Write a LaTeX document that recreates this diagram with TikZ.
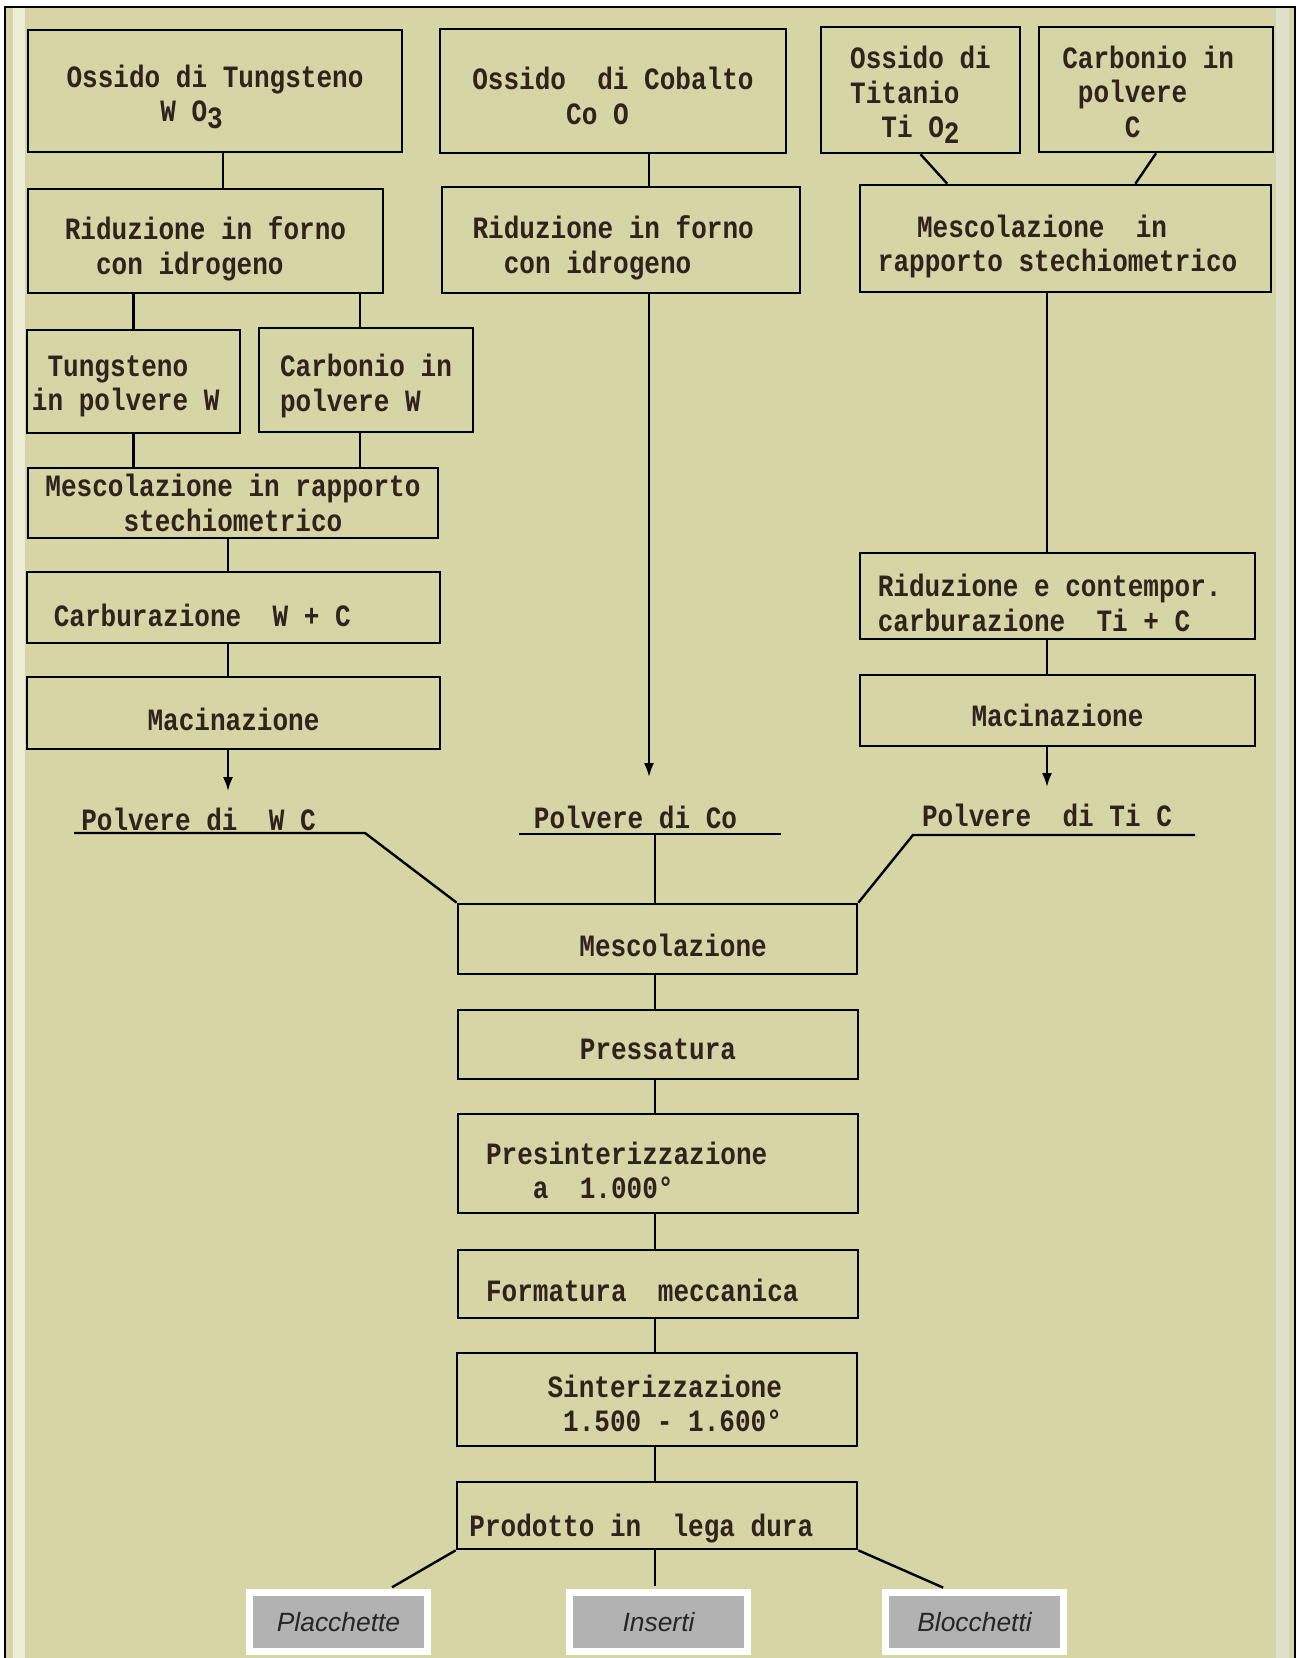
\documentclass[tikz,border=0pt]{standalone}
\usepackage{fontspec}
\setmonofont{Liberation Mono}[FakeStretch=0.84]
\newfontfamily\capfont{Liberation Sans}
\usetikzlibrary{arrows.meta,calc}

\definecolor{paper}{RGB}{214,213,166}
\definecolor{ink}{RGB}{48,34,28}
\definecolor{tabgray}{RGB}{178,178,178}

\newcommand\tw{\ttfamily\bfseries\fontsize{15.5}{17.25}\selectfont}
\newcommand\lowd[2]{\raisebox{-#1}{#2}}
\newcommand\dn[1]{\vrule width 0pt height \dimexpr\fontcharht\font`\d+2\dimexpr#1\relax\relax}

\tikzset{
  proc/.style 2 args={draw, line width=1.3pt, minimum width=#1*0.5pt, minimum height=#2*0.5pt,
    inner sep=0pt, align=center, font=\tw, text=ink},
  powder/.style={font=\tw, text=ink, inner sep=8pt, anchor=base},
  tab/.style={draw=white, fill=tabgray, line width=3.5pt, minimum width=178*0.5pt,
    minimum height=59*0.5pt, inner sep=0pt, text=black!85,
    font=\capfont\itshape\fontsize{13.2}{15}\selectfont},
  link/.style={line width=1.2pt},
  arr/.style={line width=1.2pt, -{Latex[length=7pt,width=5pt]}}
}

\begin{document}
\begin{tikzpicture}[x=0.5pt, y=-0.5pt]
  \useasboundingbox (0,0) rectangle (1298,1658);
  \fill[white] (0,0) rectangle (1298,1658);
  \fill[paper] (5,7) rectangle (1295,1658);
  \fill[paper!45!white] (13,7) rectangle (25,1658);
  \fill[black!10!paper!50!white] (1276,7) rectangle (1289,1658);
  \draw[line width=1pt] (5,1658) -- (5,7) -- (1295,7) -- (1295,1658);

  \node[proc={374}{122}] (oxw) at (215,91) {\dn{3pt}Ossido di Tungsteno\\W O\lowd{3.5pt}{3}\phantom{xxx}};
  \node[proc={346}{124}] (oxco) at (613,91) {\dn{2.5pt}Ossido~~di Cobalto\\Co O\phantom{xx}};
  \node[proc={199}{126}, align=left] (oxti) at (920.5,90) {\dn{2.5pt}Ossido di\\Titanio\\\phantom{xx}Ti O\lowd{3pt}{2}};
  \node[proc={234}{125}] (carbc) at (1156,89.5) {\dn{1pt}Carbonio in\phantom{x}\\polvere\phantom{xxx}\\C\phantom{xxx}};

  \node[proc={355}{104}] (ridw) at (205.5,241) {\dn{4pt}Riduzione in forno\\con idrogeno\phantom{xx}};
  \node[proc={358}{106}] (ridco) at (621,240) {\dn{4pt}Riduzione in forno\phantom{x}\\con idrogeno\phantom{xxx}};
  \node[proc={411}{107}] (mixti) at (1065.5,238.5) {\dn{4pt}Mescolazione~~in\phantom{xxx}\\rapporto stechiometrico\phantom{x}};

  \node[proc={213}{103}] (tung) at (133.5,381.5) {\dn{2pt}Tungsteno\phantom{xx}\\in polvere W\phantom{x}};
  \node[proc={214}{104}, align=left] (carbw) at (366,380) {\dn{3pt}Carbonio in\\polvere W};
  \node[proc={410}{70}] (mixw) at (233,503) {Mescolazione in rapporto\\stechiometrico};
  \node[proc={413}{71}] (carbur) at (233.5,607.5) {\dn{4pt}Carburazione~~W + C\phantom{xxxx}};
  \node[proc={413}{72}] (macw) at (233.5,713) {\dn{3pt}Macinazione};

  \node[proc={395}{86}, align=left] (redti) at (1057.5,596) {\dn{3.5pt}Riduzione e contempor.\phantom{x}\\carburazione~~Ti + C};
  \node[proc={395}{71}] (macti) at (1057.5,710.5) {\dn{2.5pt}Macinazione};

  \node[powder] (pwc) at (198.5,830) {Polvere di~~W C};
  \node[powder] (pco) at (635.5,828) {Polvere di Co};
  \node[powder] (ptc) at (1047,826) {Polvere~~di Ti C};

  \node[proc={399}{70}] (mix) at (657.5,939) {\dn{3pt}\phantom{xx}Mescolazione};
  \node[proc={400}{69}] (press) at (658,1044.5) {\dn{2pt}Pressatura};
  \node[proc={400}{99}, align=left] (presint) at (658,1163.5) {\dn{3.5pt}Presinterizzazione\phantom{xxxx}\\\phantom{xxx}a~~1.000°};
  \node[proc={400}{68}] (form) at (658,1284) {\dn{3pt}Formatura~~meccanica\phantom{xx}};
  \node[proc={400}{93}] (sint) at (657,1399.5) {\dn{2pt}\phantom{x}Sinterizzazione\\\phantom{xx}1.500 - 1.600°};
  \node[proc={400}{67}] (prod) at (657,1515.5) {\dn{6.5pt}Prodotto in~~lega dura\phantom{xx}};

  \node[tab] (plac) at (338.5,1622) {Placchette};
  \node[tab] (ins) at (658.5,1622) {Inserti};
  \node[tab] (bloc) at (974.5,1622) {Blocchetti};

  \coordinate (c1) at (223,0);
  \coordinate (c2) at (360,0);
  \coordinate (c3) at (228,0);
  \coordinate (c4) at (649,0);
  \coordinate (c5) at (655,0);
  \coordinate (c6) at (1047,0);
  \coordinate (u1) at (74,833);
  \coordinate (u2) at (365,833);
  \coordinate (u3) at (519,834);
  \coordinate (u4) at (781,834);
  \coordinate (u5) at (913,835);
  \coordinate (u6) at (1195,835);

  \begin{scope}[link]
    \draw (oxw.south -| c1) to (ridw.north -| c1);
    \draw (ridw.south -| tung.north) to (tung.north);
    \draw (ridw.south -| c2) to (carbw.north -| c2);
    \draw (tung.south) to (mixw.north -| tung.south);
    \draw (carbw.south -| c2) to (mixw.north -| c2);
    \draw (mixw.south -| c3) to (carbur.north -| c3);
    \draw (carbur.south -| c3) to (macw.north -| c3);
    \draw (oxco.south -| c4) to (ridco.north -| c4);
    \draw (oxti.south) to ($(mixti.north west)!0.214!(mixti.north east)$);
    \draw (carbc.south) to ($(mixti.north west)!0.669!(mixti.north east)$);
    \draw (mixti.south -| c6) to (redti.north -| c6);
    \draw (redti.south -| c6) to (macti.north -| c6);
    \draw (u1) -- (u2) -- (mix.north west);
    \draw (u3) -- (u4);
    \draw (u3 -| c5) to (mix.north -| c5);
    \draw (u6) -- (u5) -- (mix.north east);
    \draw (mix.south -| c5) to (press.north -| c5);
    \draw (press.south -| c5) to (presint.north -| c5);
    \draw (presint.south -| c5) to (form.north -| c5);
    \draw (form.south -| c5) to (sint.north -| c5);
    \draw (sint.south -| c5) to (prod.north -| c5);
    \draw[shorten >=1.75pt] (prod.south west) to ($(plac.north west)!0.773!(plac.north east)$);
    \draw[shorten >=1.75pt] (prod.south -| c5) to (ins.north -| c5);
    \draw[shorten >=1.75pt] (prod.south east) to ($(bloc.north west)!0.348!(bloc.north east)$);
  \end{scope}

  \draw[arr] (macw.south -| c3) to (pwc.north -| c3);
  \draw[arr, shorten >=6pt] (ridco.south -| c4) to (pco.north -| c4);
  \draw[arr] (macti.south -| c6) to (ptc.north -| c6);
\end{tikzpicture}
\end{document}
